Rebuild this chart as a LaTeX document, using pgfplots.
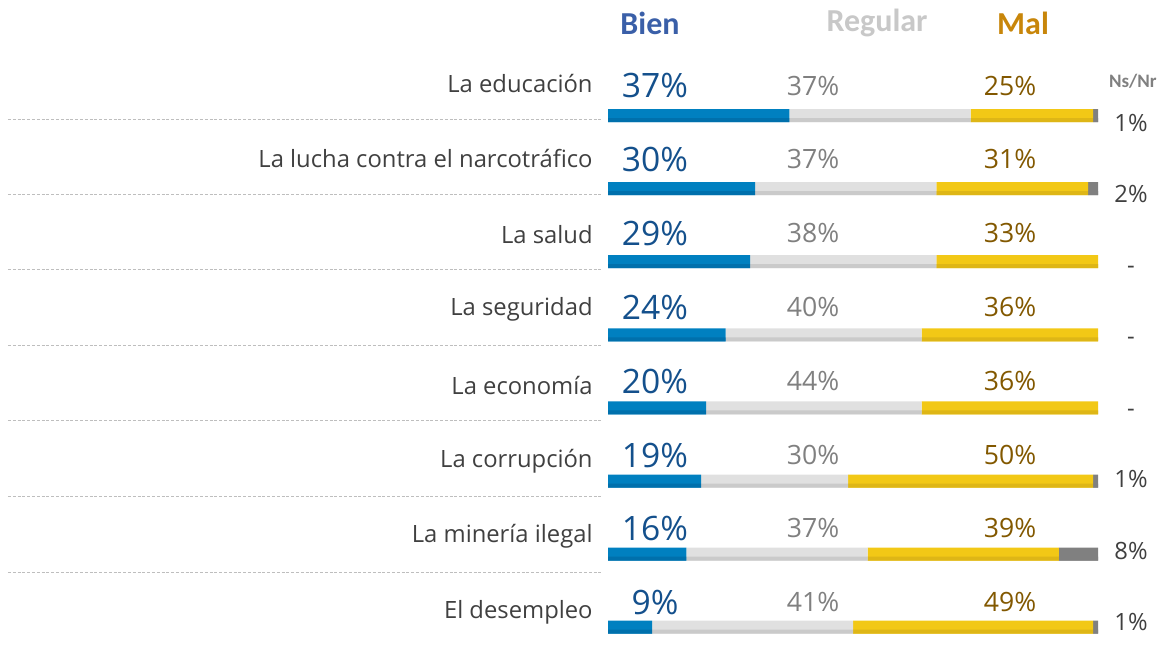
\documentclass[border=0pt]{standalone}
\usepackage{pgfplots}
\pgfplotsset{compat=1.18}
\usepackage{fontspec}
\setmainfont{Open Sans}
\newfontfamily\hdr{Carlito}
\definecolor{bienbar}{RGB}{0,128,192}
\definecolor{bienbarD}{RGB}{0,112,172}
\definecolor{regbar}{RGB}{224,224,224}
\definecolor{regbarD}{RGB}{202,202,202}
\definecolor{malbar}{RGB}{242,200,22}
\definecolor{malbarD}{RGB}{222,182,22}
\definecolor{nsbar}{RGB}{128,128,128}
\definecolor{bientxt}{RGB}{20,80,140}
\definecolor{regtxt}{RGB}{128,128,128}
\definecolor{maltxt}{RGB}{130,88,0}
\definecolor{cattxt}{RGB}{64,64,64}
\definecolor{hbien}{RGB}{58,95,168}
\definecolor{hreg}{RGB}{200,200,200}
\definecolor{hmal}{RGB}{200,134,10}
\definecolor{sep}{RGB}{190,190,190}
\pgfplotstableread{
y     bien reg mal ns
115.5 37 37 25 1
188.6 30 37 31 2
261.7 29 38 33 0
334.8 24 40 36 0
407.9 20 44 36 0
481.0 19 30 50 1
554.1 16 37 39 8
627.2 9  41 49 1
}\data
\pgfplotsset{base/.style={scale only axis, width=578.5pt, height=322.5pt,
  xmin=-124.08, xmax=112.04, ymin=0, ymax=645, y dir=reverse,
  axis lines=none, xbar stacked, clip=false}}
\tikzset{cat/.style={anchor=east, font=\fontsize{11.9}{14}\selectfont, text=cattxt, inner sep=0pt},
  pb/.style={font=\fontsize{16.8}{20}\selectfont, text=bientxt, inner sep=0pt},
  pr/.style={font=\fontsize{13.3}{16}\selectfont, text=regtxt, inner sep=0pt},
  pm/.style={font=\fontsize{13.3}{16}\selectfont, text=maltxt, inner sep=0pt},
  pn/.style={font=\fontsize{11.9}{15}\selectfont, text=cattxt, inner sep=0pt},
  hd/.style={font=\hdr\bfseries\fontsize{16}{18}\selectfont, inner sep=0pt},
  sepl/.style={sep, line width=0.5pt, dash pattern=on 1.5pt off 0.9pt}}
\begin{document}
\begin{tikzpicture}
\begin{axis}[base, bar width=13]
\path (rel axis cs:0,0) rectangle (rel axis cs:1,1);
\addplot[draw=none, fill=bienbar] table[x=bien, y=y] {\data};
\addplot[draw=none, fill=regbar] table[x=reg, y=y] {\data};
\addplot[draw=none, fill=malbar] table[x=mal, y=y] {\data};
\addplot[draw=none, fill=nsbar] table[x=ns, y=y] {\data};
% headers
\node[hd, text=hbien] at (axis cs:8.57,23) {Bien};
\node[hd, text=hreg] at (axis cs:54.9,23) {Regular};
\node[hd, text=hmal] at (axis cs:84.7,23) {Mal};
\node[font=\hdr\bfseries\fontsize{9.5}{11}\selectfont, text=regtxt, inner sep=0pt] at (axis cs:107.1,81) {Ns/Nr};
% separators
\draw[sepl] (axis cs:-122.45,119) -- (axis cs:-1.22,119);
\draw[sepl] (axis cs:-122.45,194) -- (axis cs:-1.22,194);
\draw[sepl] (axis cs:-122.45,269) -- (axis cs:-1.22,269);
\draw[sepl] (axis cs:-122.45,345) -- (axis cs:-1.22,345);
\draw[sepl] (axis cs:-122.45,420) -- (axis cs:-1.22,420);
\draw[sepl] (axis cs:-122.45,496) -- (axis cs:-1.22,496);
\draw[sepl] (axis cs:-122.45,572) -- (axis cs:-1.22,572);
% category labels
\node[cat] at (axis cs:-3.06,83.0) {La educación};
\node[cat] at (axis cs:-3.06,158.6) {La lucha contra el narcotráfico};
\node[cat] at (axis cs:-3.06,234.2) {La salud};
\node[cat] at (axis cs:-3.06,309.8) {La seguridad};
\node[cat] at (axis cs:-3.06,385.4) {La economía};
\node[cat] at (axis cs:-3.06,461.0) {La corrupción};
\node[cat] at (axis cs:-3.06,536.6) {La minería ilegal};
\node[cat] at (axis cs:-3.06,612.2) {El desempleo};
% bien
\node[pb] at (axis cs:9.59,85.5) {37\%};
\node[pb] at (axis cs:9.59,159.4) {30\%};
\node[pb] at (axis cs:9.59,233.3) {29\%};
\node[pb] at (axis cs:9.59,307.2) {24\%};
\node[pb] at (axis cs:9.59,381.1) {20\%};
\node[pb] at (axis cs:9.59,455.0) {19\%};
\node[pb] at (axis cs:9.59,528.9) {16\%};
\node[pb] at (axis cs:9.59,602.8) {9\%};
% regular
\node[pr] at (axis cs:41.84,85.5) {37\%};
\node[pr] at (axis cs:41.84,159.3) {37\%};
\node[pr] at (axis cs:41.84,233.1) {38\%};
\node[pr] at (axis cs:41.84,306.9) {40\%};
\node[pr] at (axis cs:41.84,380.7) {44\%};
\node[pr] at (axis cs:41.84,454.5) {30\%};
\node[pr] at (axis cs:41.84,528.3) {37\%};
\node[pr] at (axis cs:41.84,602.1) {41\%};
% mal
\node[pm] at (axis cs:82.04,85.5) {25\%};
\node[pm] at (axis cs:82.04,159.3) {31\%};
\node[pm] at (axis cs:82.04,233.1) {33\%};
\node[pm] at (axis cs:82.04,306.9) {36\%};
\node[pm] at (axis cs:82.04,380.7) {36\%};
\node[pm] at (axis cs:82.04,454.5) {50\%};
\node[pm] at (axis cs:82.04,528.3) {39\%};
\node[pm] at (axis cs:82.04,602.1) {49\%};
% ns/nr
\node[pn] at (axis cs:106.73,122.5) {1\%};
\node[pn] at (axis cs:106.73,193.9) {2\%};
\node[pn] at (axis cs:106.73,270) {-};
\node[pn] at (axis cs:106.73,341) {-};
\node[pn] at (axis cs:106.73,413) {-};
\node[pn] at (axis cs:106.73,479.3) {1\%};
\node[pn] at (axis cs:106.73,550.7) {8\%};
\node[pn] at (axis cs:106.73,622.0) {1\%};
\end{axis}
\begin{axis}[base, bar width=4, bar shift=4.5]
\addplot[draw=none, fill=bienbarD] table[x=bien, y=y] {\data};
\addplot[draw=none, fill=regbarD] table[x=reg, y=y] {\data};
\addplot[draw=none, fill=malbarD] table[x=mal, y=y] {\data};
\addplot[draw=none, fill=nsbar] table[x=ns, y=y] {\data};
\end{axis}
\end{tikzpicture}
\end{document}
